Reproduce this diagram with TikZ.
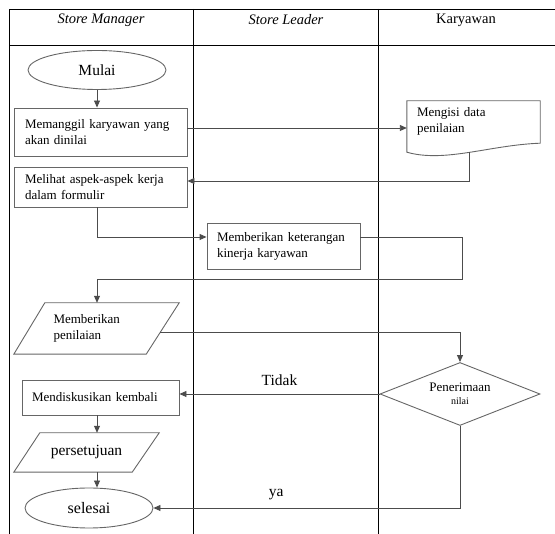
\documentclass[tikz,border=0pt]{standalone}
\usepackage{fontspec}
\setmainfont{Liberation Serif}
\usetikzlibrary{shapes.geometric,arrows.meta}
\begin{document}
\begin{tikzpicture}[x=1pt,y=-1pt,
  tab/.style={draw=black, line width=0.8pt},
  shp/.style={draw=black!60, line width=0.9pt},
  conn/.style={draw=black!70, line width=0.9pt, -{Triangle[length=7pt,width=6pt]}},
  headit/.style={font=\fontsize{14.5}{17}\selectfont\itshape},
  headup/.style={font=\fontsize{14.5}{17}\selectfont},
  boxtxt/.style={font=\fontsize{13}{16}\selectfont},
  bigtxt/.style={font=\fontsize{15.5}{18}\selectfont},
  procbox/.style={shp, rectangle, inner sep=0pt, align=left, boxtxt},
  term/.style={shp, ellipse, inner sep=0pt},
  free/.style={inner sep=0pt},
]
\useasboundingbox (0,0) rectangle (555,534);
% swimlane table
\draw[tab] (9,534) -- (9,9) -- (556,9);
\draw[tab] (9,45) -- (556,45);
\draw[tab] (193,9) -- (193,534);
\draw[tab] (378,9) -- (378,534);
\node[headit] (h1) at (101,20) {Store Manager};
\node[headit] (h2) at (286,20) {Store Leader};
\node[headup] (h3) at (466,20) {Karyawan};

% nodes
\node[term, minimum width=138pt, minimum height=39pt, bigtxt] (m1) at (97,70) {Mulai};
\node[procbox, minimum width=173pt, minimum height=48pt, text width=151pt] (b1) at (100.5,132) {Memanggil karyawan yang\\akan dinilai};
\node[procbox, minimum width=173pt, minimum height=40pt, text width=151pt] (b2) at (100.5,187) {Melihat aspek-aspek kerja\\dalam formulir};
\node[procbox, minimum width=153pt, minimum height=46pt, text width=133pt] (b3) at (283.5,246) {Memberikan keterangan\\kinerja karyawan};
\node[procbox, minimum width=157pt, minimum height=35pt, text width=137pt] (b4) at (100.5,397.5) {Mendiskusikan kembali};

% document shape
\node[free, boxtxt, minimum width=133pt, minimum height=40pt, text width=113pt, align=left] (d1) at (473.5,121) {Mengisi data\\penilaian};
\draw[shp] (d1.north west) -- (d1.north east) -- ([yshift=-2pt]d1.south east)
  .. controls (490,145) and (445,163) .. coordinate[pos=0.5] (dbot) ([yshift=-11pt]d1.south west) -- cycle;

% parallelogram 1
\node[free, boxtxt, minimum width=165pt, minimum height=51pt, text width=86pt, align=left] (p1) at (96.5,328.5) {Memberikan\\penilaian};
\draw[shp] (p1.south west) -- ([xshift=-33pt]p1.south east) -- coordinate[pos=0.43] (p1r) (p1.north east) -- ([xshift=31pt]p1.north west) -- cycle;

% parallelogram 2
\node[free, bigtxt, minimum width=145pt, minimum height=39pt] (p2) at (86.5,452.5) {persetujuan};
\draw[shp] (p2.south west) -- ([xshift=-27pt]p2.south east) -- (p2.north east) -- ([xshift=26pt]p2.north west) -- cycle;

% terminator end
\node[term, minimum width=128pt, minimum height=40pt, font=\fontsize{16}{19}\selectfont] (s1) at (89,508) {selesai};

% decision
\node[shp, diamond, aspect=2.54, minimum width=160pt, minimum height=63pt, inner sep=0pt, align=center, font=\fontsize{13}{15}\selectfont] (dia) at (460,394) {Penerimaan\\[-2pt]{\fontsize{10}{12}\selectfont nilai}};

% helper coordinates
\coordinate (b1o) at ([yshift=4pt]b1.east);
\coordinate (b2i) at ([yshift=6pt]b2.east);
\coordinate (b3i) at ([yshift=9pt]b3.west);
\coordinate (b3o) at ([yshift=9pt]b3.east);
\coordinate (c1) at (462,279);

% connectors
\draw[conn] (m1.south) -- (m1 |- b1.north);
\draw[conn] (b1o) -- (b1o -| d1.west);
\draw[conn] (dbot) |- (b2i);
\draw[conn] (m1 |- b2.south) |- (b3i);
\draw[conn] (b3o) -| (c1) -| (m1 |- p1.north);
\draw[conn] (p1r) -| (dia.north);
\draw[conn] (dia.west) -- node[above=5pt, bigtxt] (lt) {Tidak} (dia.west -| b4.east);
\draw[conn] (m1 |- b4.south) -- (m1 |- p2.north);
\draw[conn] (m1 |- p2.south) -- (m1 |- s1.north);
\draw[conn] (dia.south) |- node[pos=0.8, above=4pt, bigtxt] (ly) {ya} (s1.east);
\end{tikzpicture}
\end{document}
